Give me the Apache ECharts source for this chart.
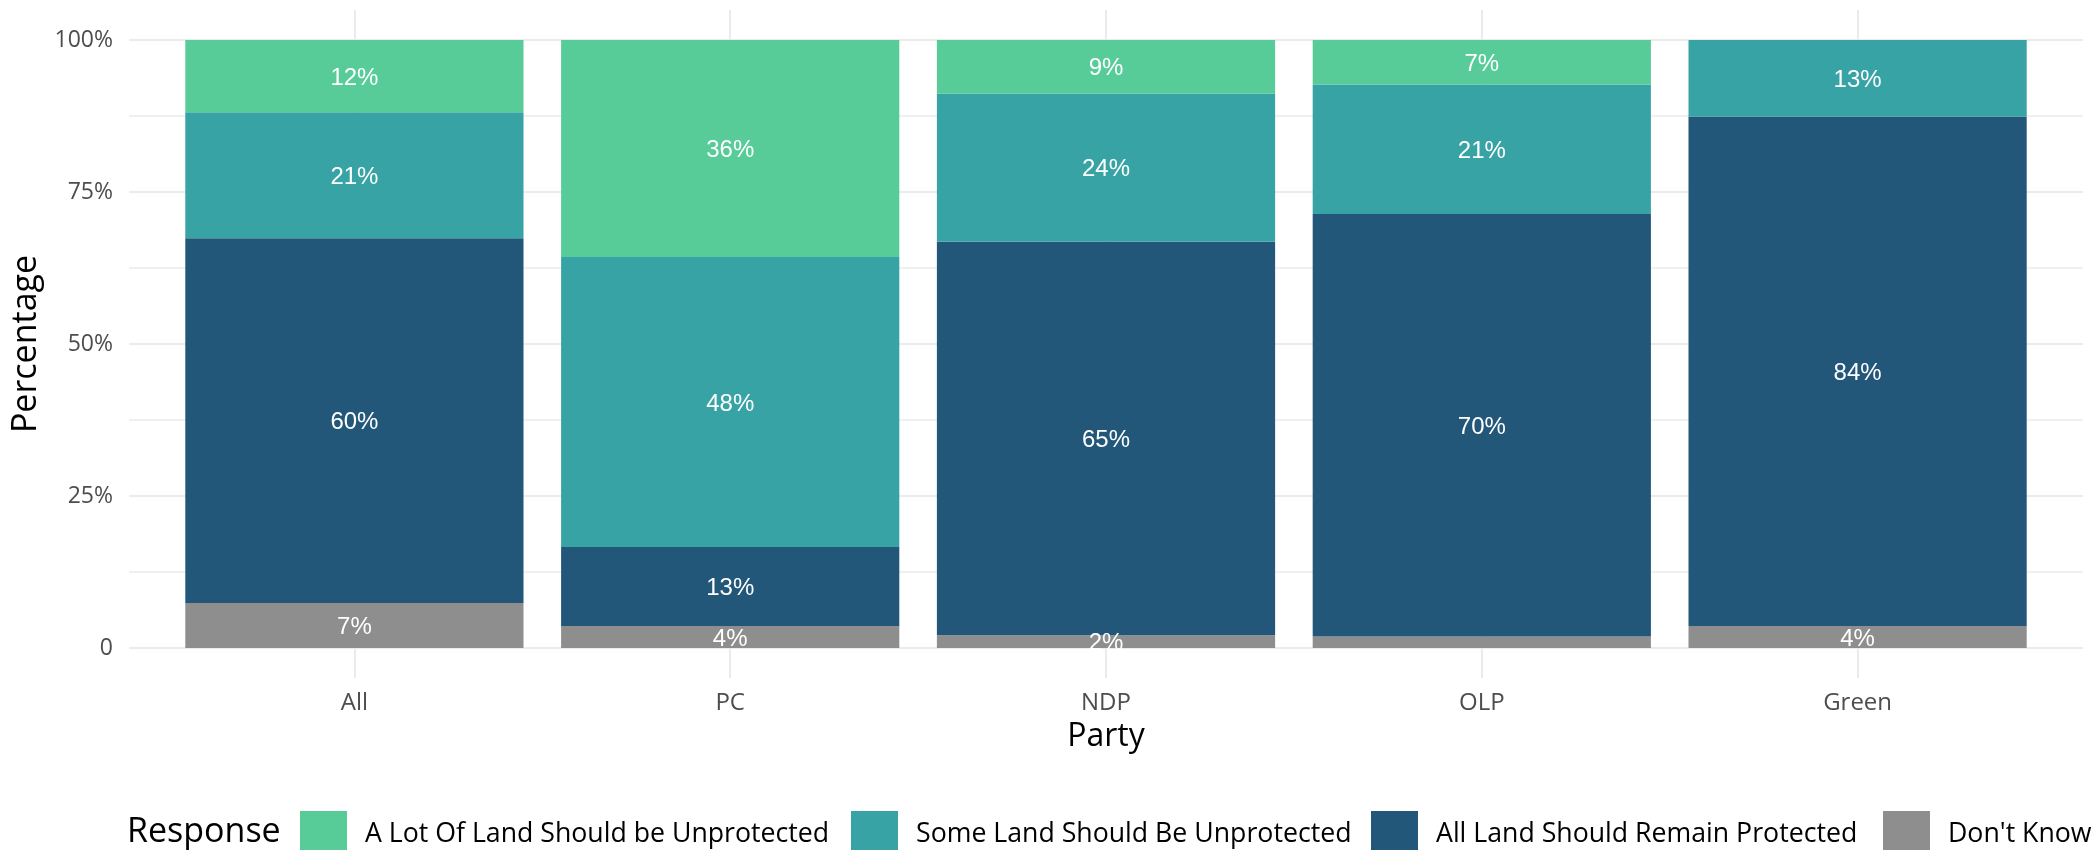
<!DOCTYPE html>
<html>
<head>
<meta charset="utf-8">
<script src="https://cdn.jsdelivr.net/npm/echarts@6/dist/echarts.min.js"></script>
<style>html,body{margin:0;padding:0;background:#fff;}#chart{width:2097px;height:850px;}</style>
</head>
<body>
<div id="chart"></div>
<script>
const categories = ['All', 'PC', 'NDP', 'OLP', 'Green'];
const dontKnow = [7.4, 3.6, 2.1, 1.9, 3.6];
const allProtected = [60.0, 13.0, 64.7, 69.5, 83.8];
const someUnprotected = [20.7, 47.7, 24.4, 21.3, 12.6];
const lotUnprotected = [11.9, 35.7, 8.8, 7.3, 0];
const yTickValues = [0, 25, 50, 75, 100];
const seriesNames = ["Don't Know", 'All Land Should Remain Protected', 'Some Land Should Be Unprotected', 'A Lot Of Land Should be Unprotected'];
const legendOrder = ['A Lot Of Land Should be Unprotected', 'Some Land Should Be Unprotected', 'All Land Should Remain Protected', "Don't Know"];

const COLORS = {"Don't Know": '#8e8e8e', 'All Land Should Remain Protected': '#22577a', 'Some Land Should Be Unprotected': '#38a3a5', 'A Lot Of Land Should be Unprotected': '#57cc99'};
const seriesData = [dontKnow, allProtected, someUnprotected, lotUnprotected];
const F = '"Open Sans", sans-serif';
const NUMF = '"Liberation Sans", Arial, sans-serif';
const GRID = '#ebebeb';

const chart = echarts.init(document.getElementById('chart'));
const legendLefts = [295, 846, 1366, 1878];

const option = {
  animation: false,
  backgroundColor: '#fff',
  title: {
    text: 'Response', left: 122, top: 810,
    textStyle: {fontFamily: F, fontSize: 34, fontWeight: 'normal', color: '#000'}
  },
  legend: legendOrder.map((n, i) => ({
    data: [n], left: legendLefts[i], top: 806, itemWidth: 47, itemHeight: 47,
    icon: 'rect', selectedMode: false, orient: 'horizontal',
    textStyle: {fontFamily: F, fontSize: 26.7, color: '#000', padding: [0, 0, 0, 13]}
  })),
  grid: [
    {left: 166.5, right: 51.5, top: 40, bottom: 202},
    {left: 129, right: 14, top: 40, bottom: 202},
    {left: 354.4, right: 239.4, top: 10, bottom: 172}
  ],
  xAxis: [
    {
      type: 'category', gridIndex: 0, data: categories,
      axisLine: {show: false}, axisTick: {show: false}, splitLine: {show: false},
      axisLabel: {fontFamily: F, fontSize: 24, color: '#4d4d4d', margin: 43},
      name: 'Party', nameLocation: 'middle', nameGap: 73,
      nameTextStyle: {fontFamily: F, fontSize: 32, color: '#000'}
    },
    {type: 'value', gridIndex: 1, min: 0, max: 1, show: false},
    {
      type: 'value', gridIndex: 2, min: 0, max: categories.length - 1, interval: 1,
      axisLine: {show: false}, axisTick: {show: false}, axisLabel: {show: false},
      splitLine: {show: true, lineStyle: {color: GRID, width: 2}}
    }
  ],
  yAxis: [
    {type: 'value', gridIndex: 0, min: 0, max: 100, show: false},
    {
      type: 'value', gridIndex: 1, min: 0, max: 100, interval: 25,
      axisLine: {show: false}, axisTick: {show: false},
      axisLabel: {
        fontFamily: F, fontSize: 23, color: '#4d4d4d', margin: 16,
        formatter: v => (yTickValues.indexOf(v) >= 0 ? (v === 0 ? '0' : v + '%') : '')
      },
      splitLine: {show: true, lineStyle: {color: GRID, width: 2}},
      minorTick: {show: false, splitNumber: 2},
      minorSplitLine: {show: true, lineStyle: {color: GRID, width: 1.5}},
      name: 'Percentage', nameLocation: 'middle', nameGap: 82,
      nameTextStyle: {fontFamily: F, fontSize: 34, color: '#000'}
    },
    {type: 'value', gridIndex: 2, min: 0, max: 100, show: false}
  ],
  series: seriesNames.map((n, i) => ({
    name: n, type: 'bar', stack: 'total', xAxisIndex: 0, yAxisIndex: 0,
    barWidth: '90%', data: seriesData[i],
    itemStyle: {color: COLORS[n]},
    label: {
      show: true, position: 'inside', color: '#fff', fontFamily: NUMF, fontSize: 24,
      offset: [0, 2],
      formatter: p => (p.value >= 2 ? Math.round(p.value) + '%' : '')
    }
  }))
};
chart.setOption(option);
</script>
</body>
</html>
